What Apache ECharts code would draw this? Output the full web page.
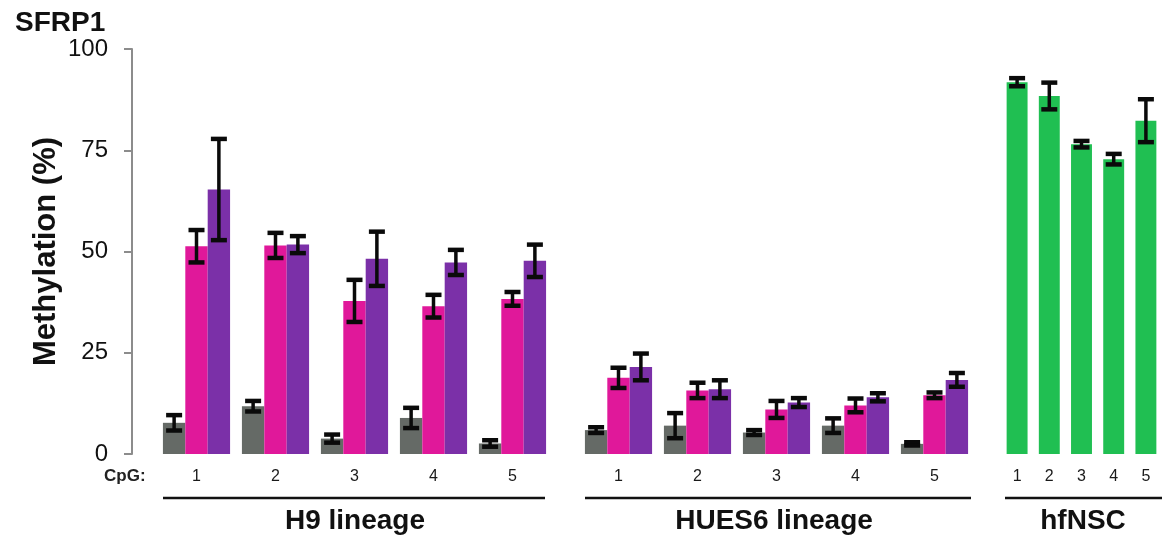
<!DOCTYPE html>
<html>
<head>
<meta charset="utf-8">
<script src="https://cdn.jsdelivr.net/npm/echarts@6/dist/echarts.min.js"></script>
<style>
  html, body { margin: 0; padding: 0; background: #ffffff; }
  #chart { width: 1162px; height: 540px; }
</style>
</head>
<body>
<div id="chart"></div>
<script>
// SFRP1 CpG methylation (%), mean and error per CpG site
const cpgSites = ['1', '2', '3', '4', '5'];
const yTicks = [0, 25, 50, 75, 100];

const h9Gray      = [7.7, 11.8, 3.8, 8.9, 2.6];
const h9GrayErr   = [1.9, 1.3, 1.0, 2.5, 0.8];
const h9Pink      = [51.3, 51.5, 37.8, 36.5, 38.3];
const h9PinkErr   = [4.0, 3.1, 5.2, 2.8, 1.7];
const h9Purple    = [65.3, 51.7, 48.2, 47.3, 47.7];
const h9PurpleErr = [12.5, 2.1, 6.7, 3.1, 4.0];

const huesGray      = [5.9, 7.0, 5.3, 7.0, 2.5];
const huesGrayErr   = [0.7, 3.1, 0.6, 1.8, 0.4];
const huesPink      = [18.8, 15.7, 11.0, 12.0, 14.5];
const huesPinkErr   = [2.5, 1.9, 2.1, 1.7, 0.7];
const huesPurple    = [21.5, 16.0, 12.7, 14.0, 18.3];
const huesPurpleErr = [3.3, 2.2, 1.1, 1.0, 1.7];

const nscGreen    = [91.8, 88.4, 76.5, 72.8, 82.3];
const nscGreenErr = [1.0, 3.3, 0.8, 1.3, 5.3];

const groupNames = ['H9 lineage', 'HUES6 lineage', 'hfNSC'];

const GRAY = '#656a66', PINK = '#e0189a', PURPLE = '#7b30a8', GREEN = '#20bf52';
const FONT = '"Liberation Sans", Arial, sans-serif';
const CAT_GAP = 0.15;      // barCategoryGap for the three-bar groups

const chart = echarts.init(document.getElementById('chart'), null, { renderer: 'canvas' });

// Error bar drawn on a bar that sits at slot `slot` (-1, 0, 1) inside its category
function errorSeries(axisIndex, means, errs, slot, nBars) {
  return {
    type: 'custom',
    xAxisIndex: axisIndex,
    yAxisIndex: axisIndex,
    z: 10,
    data: means.map((m, i) => [i, m, errs[i]]),
    renderItem: function (params, api) {
      const idx = api.value(0), m = api.value(1), e = api.value(2);
      const band = api.size([1, 0])[0];
      const bw = band * (1 - CAT_GAP) / nBars;
      const x = api.coord([idx, m])[0] + slot * bw;
      const yTop = api.coord([idx, m + e])[1];
      const yBot = api.coord([idx, m - e])[1];
      const half = 8;
      const stem = { stroke: '#0a0a0a', lineWidth: 3.5 };
      const cap = { stroke: '#0a0a0a', lineWidth: 4.5 };
      return {
        type: 'group',
        children: [
          { type: 'line', shape: { x1: x, y1: yTop, x2: x, y2: yBot }, style: stem },
          { type: 'line', shape: { x1: x - half, y1: yTop, x2: x + half, y2: yTop }, style: cap },
          { type: 'line', shape: { x1: x - half, y1: yBot, x2: x + half, y2: yBot }, style: cap }
        ]
      };
    }
  };
}

function barSeries(axisIndex, values, color, extra) {
  return Object.assign({
    type: 'bar',
    xAxisIndex: axisIndex,
    yAxisIndex: axisIndex,
    data: values,
    itemStyle: { color: color },
    barGap: '0%',
    barCategoryGap: (CAT_GAP * 100) + '%',
    silent: true
  }, extra || {});
}

const gridTop = 49, gridHeight = 405;
const grids = [
  { left: 157, top: gridTop, width: 395, height: gridHeight },
  { left: 579, top: gridTop, width: 395, height: gridHeight },
  { left: 1001, top: gridTop, width: 161, height: gridHeight }
];

function xAxisFor(i) {
  return {
    type: 'category',
    gridIndex: i,
    data: cpgSites,
    axisLine: { show: false },
    axisTick: { show: false },
    axisLabel: { fontFamily: FONT, fontSize: 16, color: '#1a1a1a', margin: 15 }
  };
}

function yAxisFor(i) {
  const shown = i === 0;
  return {
    type: 'value',
    gridIndex: i,
    min: yTicks[0],
    max: yTicks[yTicks.length - 1],
    interval: 25,
    show: shown,
    offset: shown ? 25 : 0,
    name: shown ? 'Methylation (%)' : '',
    nameLocation: 'middle',
    nameRotate: 90,
    nameGap: 70,
    nameTextStyle: { fontFamily: FONT, fontSize: 31, fontWeight: 'bold', color: '#111' },
    axisLine: { show: shown, lineStyle: { color: '#8c8c8c', width: 2 } },
    axisTick: { show: shown, length: 8, inside: false, lineStyle: { color: '#8c8c8c', width: 2 } },
    axisLabel: { show: shown, fontFamily: FONT, fontSize: 24, color: '#111', margin: 24 },
    splitLine: { show: false }
  };
}

const titleFont = 'bold 28px ' + FONT;

const option = {
  backgroundColor: '#ffffff',
  animation: false,
  grid: grids,
  xAxis: [xAxisFor(0), xAxisFor(1), xAxisFor(2)],
  yAxis: [yAxisFor(0), yAxisFor(1), yAxisFor(2)],
  series: [
    barSeries(0, h9Gray, GRAY),
    barSeries(0, h9Pink, PINK),
    barSeries(0, h9Purple, PURPLE),
    errorSeries(0, h9Gray, h9GrayErr, -1, 3),
    errorSeries(0, h9Pink, h9PinkErr, 0, 3),
    errorSeries(0, h9Purple, h9PurpleErr, 1, 3),

    barSeries(1, huesGray, GRAY),
    barSeries(1, huesPink, PINK),
    barSeries(1, huesPurple, PURPLE),
    errorSeries(1, huesGray, huesGrayErr, -1, 3),
    errorSeries(1, huesPink, huesPinkErr, 0, 3),
    errorSeries(1, huesPurple, huesPurpleErr, 1, 3),

    barSeries(2, nscGreen, GREEN, { barCategoryGap: '35%' }),
    errorSeries(2, nscGreen, nscGreenErr, 0, 1)
  ],
  graphic: [
    { type: 'text', left: 15, top: 9, style: { text: 'SFRP1', font: 'bold 28px ' + FONT, fill: '#111' } },
    { type: 'text', left: 104, top: 468, style: { text: 'CpG:', font: 'bold 17px ' + FONT, fill: '#222' } },
    // group underlines
    { type: 'line', shape: { x1: 163, y1: 498, x2: 545, y2: 498 }, style: { stroke: '#111', lineWidth: 2.5 } },
    { type: 'line', shape: { x1: 585, y1: 498, x2: 971, y2: 498 }, style: { stroke: '#111', lineWidth: 2.5 } },
    { type: 'line', shape: { x1: 1005, y1: 498, x2: 1162, y2: 498 }, style: { stroke: '#111', lineWidth: 2.5 } },
    // group titles
    { type: 'text', x: 355, y: 521, style: { text: groupNames[0], font: titleFont, fill: '#111', align: 'center', verticalAlign: 'middle' } },
    { type: 'text', x: 774, y: 521, style: { text: groupNames[1], font: titleFont, fill: '#111', align: 'center', verticalAlign: 'middle' } },
    { type: 'text', x: 1083, y: 521, style: { text: groupNames[2], font: titleFont, fill: '#111', align: 'center', verticalAlign: 'middle' } }
  ]
};

chart.setOption(option);
</script>
</body>
</html>
